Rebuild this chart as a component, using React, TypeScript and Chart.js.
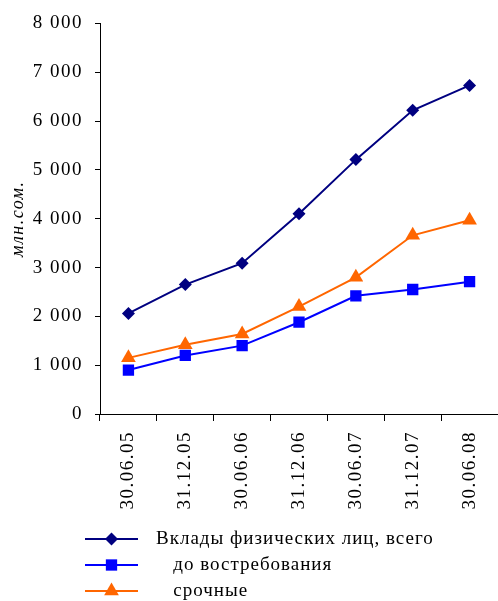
import React, { useEffect, useRef } from 'react';
import { Chart, registerables } from 'chart.js';

Chart.register(...registerables);

const categories = ['30.06.05', '31.12.05', '30.06.06', '31.12.06', '30.06.07', '31.12.07', '30.06.08'];
const totalDeposits = [2060, 2650, 3090, 4100, 5210, 6220, 6730];
const demandDeposits = [900, 1200, 1400, 1880, 2420, 2550, 2710];
const termDeposits = [1150, 1420, 1640, 2200, 2800, 3660, 3970];
const seriesLabels = ['Вклады физических лиц, всего', '   до востребования', '   срочные'];
const yAxisTitle = 'млн.сом.';
const yMin = 0;
const yMax = 8000;
const yStep = 1000;

const FONT = '"Liberation Serif", "Times New Roman", serif';
const SPACING = '1.5px';

const spacingPlugin = {
  id: 'spacing',
  beforeLayout(chart: any) {
    chart.ctx.letterSpacing = SPACING;
  },
  beforeDraw(chart: any) {
    chart.ctx.letterSpacing = SPACING;
  },
};

const legendPlugin = {
  id: 'customLegend',
  afterDraw(chart: any) {
    const ctx = chart.ctx;
    const rows = [539, 565, 591];
    const x0 = 85;
    const x1 = 138;
    const mx = 111.5;
    const tx = 156;
    ctx.save();
    ctx.letterSpacing = '1px';
    chart.data.datasets.forEach((ds: any, i: number) => {
      const y = rows[i];
      ctx.strokeStyle = ds.borderColor;
      ctx.lineWidth = 2;
      ctx.beginPath();
      ctx.moveTo(x0, y);
      ctx.lineTo(x1, y);
      ctx.stroke();
      ctx.fillStyle = ds.backgroundColor;
      ctx.beginPath();
      const r = ds.pointRadius;
      if (ds.pointStyle === 'rectRot') {
        ctx.moveTo(mx - r, y);
        ctx.lineTo(mx, y - r);
        ctx.lineTo(mx + r, y);
        ctx.lineTo(mx, y + r);
        ctx.closePath();
      } else if (ds.pointStyle === 'rect') {
        const s = r * Math.SQRT1_2;
        ctx.rect(mx - s, y - s, 2 * s, 2 * s);
      } else {
        const h = r * 1.5;
        const half = (r * Math.sqrt(3)) / 2;
        ctx.moveTo(mx, y - r);
        ctx.lineTo(mx + half, y - r + h);
        ctx.lineTo(mx - half, y - r + h);
        ctx.closePath();
      }
      ctx.fill();
      ctx.fillStyle = '#000';
      ctx.font = `19px ${FONT}`;
      ctx.textBaseline = 'middle';
      ctx.textAlign = 'left';
      ctx.fillText(ds.label, tx, y);
    });
    ctx.restore();
  },
};

export default function App() {
  const ref = useRef<HTMLCanvasElement | null>(null);
  useEffect(() => {
    if (!ref.current) return;
    const chart = new Chart(ref.current, {
      type: 'line',
      data: {
        labels: categories,
        datasets: [
          {
            label: seriesLabels[0],
            data: totalDeposits,
            borderColor: '#000080',
            backgroundColor: '#000080',
            borderWidth: 2,
            pointStyle: 'rectRot',
            pointRadius: 6.5,
            pointBorderWidth: 0,
          },
          {
            label: seriesLabels[1],
            data: demandDeposits,
            borderColor: '#0000FF',
            backgroundColor: '#0000FF',
            borderWidth: 2,
            pointStyle: 'rect',
            pointRadius: 8,
            pointBorderWidth: 0,
          },
          {
            label: seriesLabels[2],
            data: termDeposits,
            borderColor: '#FF6600',
            backgroundColor: '#FF6600',
            borderWidth: 2,
            pointStyle: 'triangle',
            pointRadius: 8.5,
            pointBorderWidth: 0,
          },
        ],
      },
      options: {
        responsive: false,
        animation: false,
        layout: { autoPadding: false, padding: { top: 9, left: 0, right: 0, bottom: 87 } },
        plugins: { legend: { display: false }, tooltip: { enabled: false } },
        scales: {
          x: {
            offset: true,
            grid: {
              offset: true,
              drawOnChartArea: false,
              drawTicks: true,
              tickLength: 7,
              color: '#000',
              lineWidth: 1,
            },
            border: { display: true, color: '#000', width: 1 },
            ticks: {
              minRotation: 90,
              maxRotation: 90,
              padding: 10,
              color: '#000',
              font: { family: FONT, size: 19 },
            },
            afterFit(scale: any) {
              scale.height = 100;
              scale.paddingLeft = 0;
              scale.paddingRight = 0;
            },
          },
          y: {
            min: yMin,
            max: yMax,
            grid: {
              drawOnChartArea: false,
              drawTicks: true,
              tickLength: 5,
              color: '#000',
              lineWidth: 1,
            },
            border: { display: true, color: '#000', width: 1 },
            ticks: {
              stepSize: yStep,
              padding: 12,
              color: '#000',
              font: { family: FONT, size: 19 },
              callback: (v: any) => String(v).replace(/\B(?=(\d{3})+(?!\d))/g, ' '),
            },
            title: {
              display: true,
              text: yAxisTitle,
              color: '#000',
              font: { family: FONT, size: 18, style: 'italic' },
              padding: { top: 7, bottom: 0 },
            },
            afterFit(scale: any) {
              scale.width = 100;
            },
          },
        },
      },
      plugins: [spacingPlugin, legendPlugin],
    });
    return () => chart.destroy();
  }, []);
  return (
    <div style={{ position: 'absolute', left: 0, top: 0, width: 498, height: 601, background: '#fff' }}>
      <canvas ref={ref} width={498} height={601} style={{ display: 'block' }} />
    </div>
  );
}
